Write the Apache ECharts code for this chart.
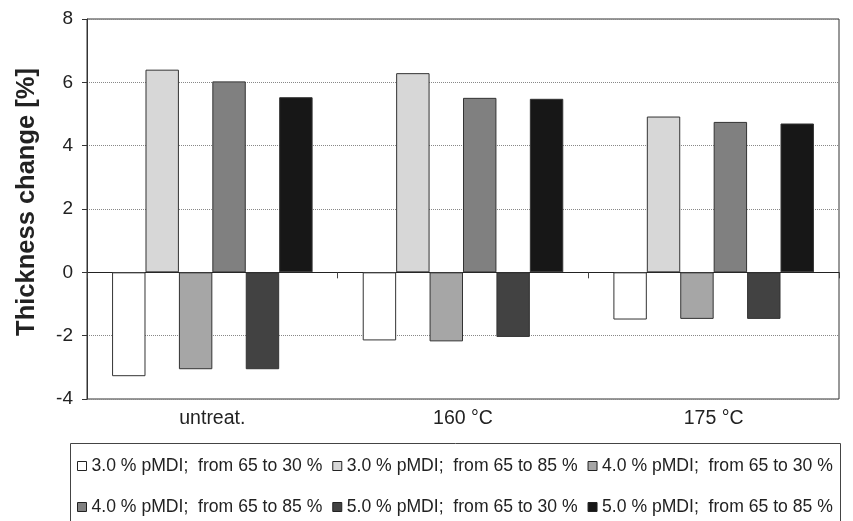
<!DOCTYPE html>
<html>
<head>
<meta charset="utf-8">
<script src="https://cdn.jsdelivr.net/npm/echarts@6/dist/echarts.min.js"></script>
<style>
  html, body { margin: 0; padding: 0; background: #fff; }
  #main { width: 853px; height: 521px; }
</style>
</head>
<body>
<div id="main"></div>
<script>
// categories and values
var categories = ['untreat.', '160 °C', '175 °C'];
var seriesNames = [
    '3.0 % pMDI;  from 65 to 30 %',
    '3.0 % pMDI;  from 65 to 85 %',
    '4.0 % pMDI;  from 65 to 30 %',
    '4.0 % pMDI;  from 65 to 85 %',
    '5.0 % pMDI;  from 65 to 30 %',
    '5.0 % pMDI;  from 65 to 85 %'
];
var p3dry = [-3.28, -2.15, -1.49];
var p3wet = [6.40, 6.29, 4.92];
var p4dry = [-3.06, -2.18, -1.47];
var p4wet = [6.03, 5.51, 4.75];
var p5dry = [-3.06, -2.04, -1.47];
var p5wet = [5.53, 5.48, 4.70];
var colors = ['#ffffff', '#d7d7d7', '#a6a6a6', '#808080', '#424242', '#171717'];
var yTicks = [-4, -2, 0, 2, 4, 6, 8];

var chart = echarts.init(document.getElementById('main'));
var values = [p3dry, p3wet, p4dry, p4wet, p5dry, p5wet];
var series = [];
for (var i = 0; i < values.length; i++) {
    series.push({
        name: seriesNames[i],
        type: 'bar',
        xAxisIndex: 0,
        data: values[i],
        barGap: '0%',
        barCategoryGap: '20%',
        itemStyle: { color: colors[i], borderColor: '#333', borderWidth: 1 }
    });
}

var legendText = { fontFamily: 'Liberation Sans', fontSize: 17.6, color: '#222' };
function legendRow(names, top) {
    return {
        data: names,
        left: 77, top: top, padding: 0,
        itemWidth: 9, itemHeight: 9, itemGap: 10,
        icon: 'rect',
        itemStyle: { borderColor: '#222', borderWidth: 1 },
        textStyle: legendText
    };
}

var option = {
    backgroundColor: '#fff',
    animation: false,
    color: colors,
    grid: {
        left: 87, right: 14, top: 19, bottom: 122,
        show: true, borderColor: '#333', borderWidth: 1
    },
    legend: [legendRow(seriesNames.slice(0, 3), 457), legendRow(seriesNames.slice(3), 498)],
    graphic: [{
        type: 'rect',
        shape: { x: 70.5, y: 443.5, width: 770, height: 120 },
        style: { fill: 'none', stroke: '#444', lineWidth: 1 },
        silent: true
    }],
    xAxis: [{
        type: 'category',
        data: categories,
        position: 'bottom',
        axisLine: { show: false, onZero: false },
        axisTick: { show: false },
        axisLabel: {
            margin: 10, fontFamily: 'Liberation Sans', fontSize: 19.5, color: '#222'
        }
    }, {
        type: 'category',
        data: categories,
        position: 'top',
        axisLine: { onZero: true, lineStyle: { color: '#222', width: 1 } },
        axisTick: { show: true, inside: true, length: 6, lineStyle: { color: '#444' } },
        axisLabel: { show: false }
    }],
    yAxis: {
        type: 'value',
        min: yTicks[0],
        max: yTicks[yTicks.length - 1],
        interval: 2,
        name: 'Thickness change [%]',
        nameLocation: 'middle',
        nameGap: 47,
        nameTextStyle: {
            fontFamily: 'Liberation Sans', fontSize: 25.5, fontWeight: 'bold', color: '#222',
            padding: [0, 0, 0, 14]
        },
        axisLine: { show: true, lineStyle: { color: '#333' } },
        axisTick: { show: true, length: 5, lineStyle: { color: '#333' } },
        axisLabel: {
            margin: 14, fontFamily: 'Liberation Sans', fontSize: 19, color: '#222'
        },
        splitLine: { lineStyle: { type: 'dotted', color: '#888', width: 1 } }
    },
    series: series
};
chart.setOption(option);
</script>
</body>
</html>
